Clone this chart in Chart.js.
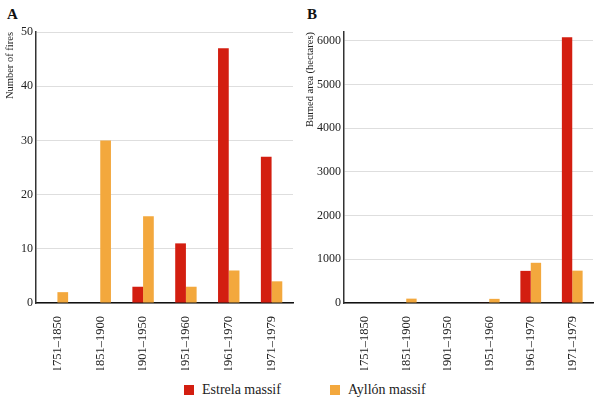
<!DOCTYPE html>
<html>
<head>
<meta charset="utf-8">
<script src="https://cdn.jsdelivr.net/npm/chart.js@4"></script>
<style>
    body { margin: 0; background: #fff; font-family: 'Liberation Serif', 'Times New Roman', serif; }
    #wrap { position: relative; width: 600px; height: 399px; }
    .panel { position: absolute; top: 0; width: 300px; height: 370px; }
    .tag { position: absolute; top: 6px; font-weight: bold; font-size: 15px; color: #111; }
    .key { position: absolute; top: 382px; font-size: 14px; color: #222; display: flex; align-items: center; }
    .key span { display: inline-block; width: 10px; height: 10px; margin-right: 8px; }
</style>
</head>
<body>
<div id="wrap">
    <div class="tag" style="left:7px">A</div>
    <div class="tag" style="left:307px">B</div>
    <div class="panel" style="left:0"><canvas id="firesChart"></canvas></div>
    <div class="panel" style="left:300px"><canvas id="areaChart"></canvas></div>
    <div class="key" style="left:184px"><span style="background:#d31e10"></span>Estrela massif</div>
    <div class="key" style="left:330px"><span style="background:#f3a83d"></span>Ayllón massif</div>
</div>
<script>
/* ================================
   DATA
================================ */
const periods = ['1751–1850', '1851–1900', '1901–1950', '1951–1960', '1961–1970', '1971–1979'];

const estrelaFires = [0, 0, 3, 11, 47, 27];
const ayllonFires  = [2, 30, 16, 3, 6, 4];
const firesTicks   = [0, 10, 20, 30, 40, 50];

const estrelaArea = [0, 0, 0, 10, 735, 6080];
const ayllonArea  = [0, 100, 0, 95, 920, 740];
const areaTicks   = [0, 1000, 2000, 3000, 4000, 5000, 6000];

const RED = '#d31e10';
const ORANGE = '#f3a83d';
const FONT = "'Liberation Serif', 'Times New Roman', serif";

/* ================================
   SHARED CHART SETUP
================================ */
function makePanel(id, estrela, ayllon, opts) {
    new Chart(document.getElementById(id), {
        type: 'bar',
        data: {
            labels: periods,
            datasets: [
                { label: 'Estrela massif', data: estrela, backgroundColor: RED },
                { label: 'Ayllón massif', data: ayllon, backgroundColor: ORANGE }
            ]
        },
        options: {
            responsive: true,
            maintainAspectRatio: false,
            animation: false,
            categoryPercentage: 0.5,
            barPercentage: 1,
            layout: { padding: { top: 32, right: 7, left: 0, bottom: 0 } },
            plugins: { legend: { display: false }, tooltip: { enabled: false } },
            scales: {
                x: {
                    grid: { display: false },
                    border: { color: '#111', width: 1.5 },
                    ticks: {
                        autoSkip: false, minRotation: 90, maxRotation: 90, padding: 5,
                        color: '#222', font: { family: FONT, size: 12.5 }
                    },
                    afterFit: s => { s.height = 67; }
                },
                y: {
                    min: 0,
                    max: opts.max,
                    grid: { color: '#dedede', drawTicks: false },
                    border: { color: '#333', width: 1.5 },
                    ticks: {
                        padding: 3,
                        color: '#222', font: { family: FONT, size: 12 },
                        callback: v => String(v)
                    },
                    afterBuildTicks: s => { s.ticks = opts.ticks.map(v => ({ value: v })); },
                    title: {
                        display: true, text: opts.title, align: 'end',
                        color: '#222', font: { family: FONT, size: 10.5 },
                        padding: { top: opts.titlePad, bottom: 0 }
                    },
                    afterFit: s => { s.width = opts.axisWidth; }
                }
            }
        }
    });
}

makePanel('firesChart', estrelaFires, ayllonFires,
    { max: 50, ticks: firesTicks, title: 'Number of fires', axisWidth: 36, titlePad: 4 });
makePanel('areaChart', estrelaArea, ayllonArea,
    { max: 6200, ticks: areaTicks, title: 'Burned area (hectares)', axisWidth: 44, titlePad: 4 });
</script>
</body>
</html>
